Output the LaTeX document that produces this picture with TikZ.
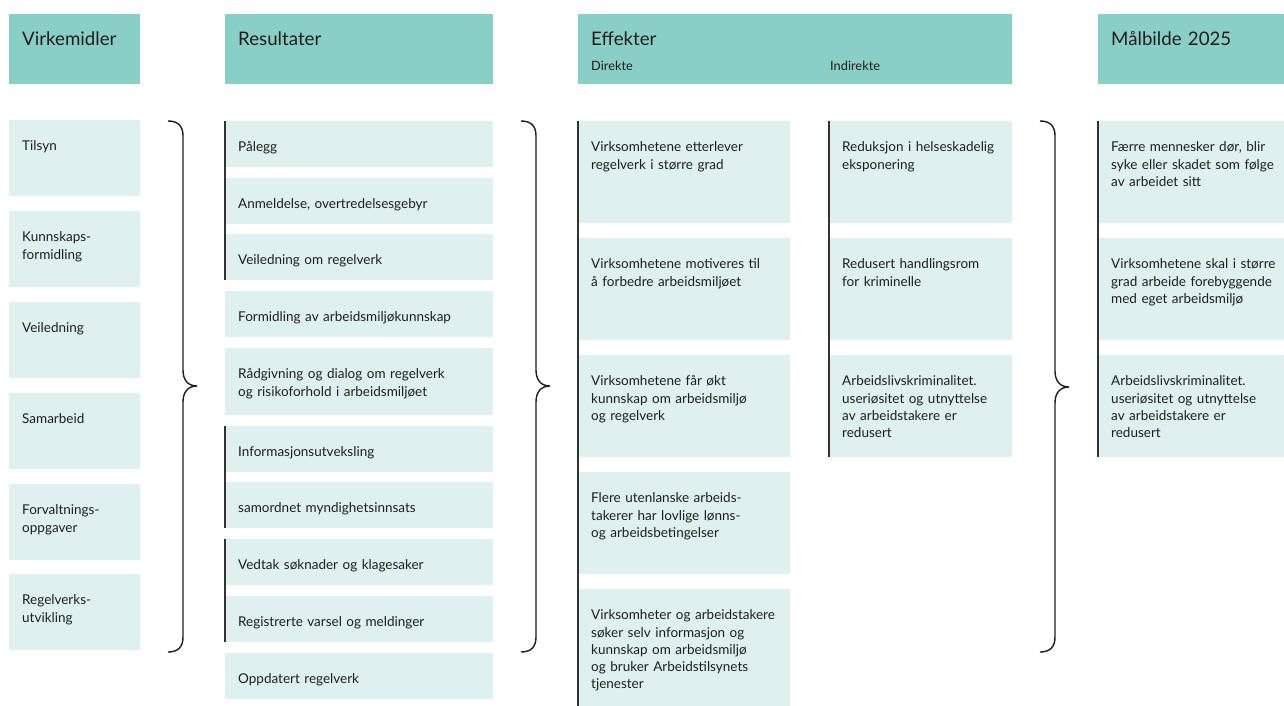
\documentclass[tikz,border=0pt]{standalone}
\usepackage{fontspec}
\setmainfont{Lato}
\definecolor{headc}{HTML}{8ACFC5}
\definecolor{lightc}{HTML}{DEF1EE}
\definecolor{inkc}{HTML}{1E1E1E}
\definecolor{barc}{HTML}{333333}
\newcommand\kbox[6]{%
  \node[boxst, minimum width=#4pt, minimum height=#5pt] (#1) at (#2,#3) {};
  \node[txt] (#1t) at ([xshift=13pt, yshift=-18.6pt]#1.north west) {\strut #6};
}
\newcommand\khead[6]{%
  \node[headst, minimum width=#4pt, minimum height=#5pt] (#1) at (#2,#3) {};
  \node[htxt] (#1t) at ([xshift=13pt, yshift=-16pt]#1.north west) {\strut #6};
}
\newcommand\kbrace[4]{% x0, top, mid, bottom
  \draw[bracest] (#1,#2) .. controls ++(10,0) and ++(0,-10) .. ++(15,15)
    -- (#1+15,#3-16) .. controls ++(0,10) and ++(-9,0) .. (#1+29,#3)
    .. controls ++(-9,0) and ++(0,-10) .. (#1+15,#3+16)
    -- (#1+15,#4-15) .. controls ++(0,10) and ++(10,0) .. (#1,#4);
}
\begin{document}
\begin{tikzpicture}[x=1pt,y=-1pt,
  boxst/.style={rectangle, fill=lightc, inner sep=0pt, outer sep=0pt, anchor=north west},
  headst/.style={rectangle, fill=headc, inner sep=0pt, outer sep=0pt, anchor=north west},
  txt/.style={inner sep=0pt, anchor=north west, text width=250pt, align=left, text=inkc,
    font=\fontsize{13.5}{17.2}\selectfont},
  htxt/.style={inner sep=0pt, anchor=north west, text width=250pt, align=left, text=inkc,
    font=\fontsize{18.7}{22}\selectfont},
  subtxt/.style={inner sep=0pt, anchor=base west, text=inkc, font=\fontsize{12.8}{15}\selectfont},
  barst/.style={draw=barc, line width=1.8pt},
  bracest/.style={draw=inkc, line width=1.4pt}]
\useasboundingbox (0,0) rectangle (1284,706);
\fill[white] (0,0) rectangle (1284,706);

% headers
\khead{h1}{9}{14}{131}{70}{Virkemidler}
\khead{h2}{225}{14}{268}{70}{Resultater}
\khead{h3}{578}{14}{434}{70}{Effekter}
\khead{h4}{1098}{14}{186}{70}{Målbilde 2025}
\node[subtxt] (sd) at (591,71) {Direkte};
\node[subtxt] (si) at (830,71) {Indirekte};

% Virkemidler
\kbox{v1}{9}{120}{131}{76}{Tilsyn}
\kbox{v2}{9}{211}{131}{76}{Kunnskaps-\\formidling}
\kbox{v3}{9}{302}{131}{76}{Veiledning}
\kbox{v4}{9}{393}{131}{76}{Samarbeid}
\kbox{v5}{9}{484}{131}{76}{Forvaltnings-\\oppgaver}
\kbox{v6}{9}{574}{131}{76}{Regelverks-\\utvikling}

% Resultater
\kbox{r1}{225}{121}{268}{46}{Pålegg}
\kbox{r2}{225}{178}{268}{46}{Anmeldelse, overtredelsesgebyr}
\kbox{r3}{225}{234}{268}{46}{Veiledning om regelverk}
\kbox{r4}{225}{291}{268}{46}{Formidling av arbeidsmiljøkunnskap}
\kbox{r5}{225}{348}{268}{67}{Rådgivning og dialog om regelverk\\og risikoforhold i arbeidsmiljøet}
\kbox{r6}{225}{426}{268}{46}{Informasjonsutveksling}
\kbox{r7}{225}{482}{268}{46}{samordnet myndighetsinnsats}
\kbox{r8}{225}{539}{268}{46}{Vedtak søknader og klagesaker}
\kbox{r9}{225}{596}{268}{46}{Registrerte varsel og meldinger}
\kbox{r10}{225}{653}{268}{46}{Oppdatert regelverk}

% Effekter direkte
\kbox{d1}{578}{121}{212}{102}{Virksomhetene etterlever\\regelverk i større grad}
\kbox{d2}{578}{238}{212}{102}{Virksomhetene motiveres til\\å forbedre arbeidsmiljøet}
\kbox{d3}{578}{355}{212}{102}{Virksomhetene får økt\\kunnskap om arbeidsmiljø\\og regelverk}
\kbox{d4}{578}{472}{212}{102}{Flere utenlanske arbeids-\\takerer har lovlige lønns-\\og arbeidsbetingelser}
\kbox{d5}{578}{589}{212}{117}{Virksomheter og arbeidstakere\\søker selv informasjon og\\kunnskap om arbeidsmiljø\\og bruker Arbeidstilsynets\\tjenester}

% Effekter indirekte
\kbox{i1}{829}{121}{183}{102}{Reduksjon i helseskadelig\\eksponering}
\kbox{i2}{829}{238}{183}{102}{Redusert handlingsrom\\for kriminelle}
\kbox{i3}{829}{355}{183}{102}{Arbeidslivskriminalitet.\\useriøsitet og utnyttelse\\av arbeidstakere er\\redusert}

% Målbilde
\kbox{m1}{1098}{121}{186}{102}{Færre mennesker dør, blir\\syke eller skadet som følge\\av arbeidet sitt}
\kbox{m2}{1098}{238}{186}{102}{Virksomhetene skal i større\\grad arbeide forebyggende\\med eget arbeidsmiljø}
\kbox{m3}{1098}{355}{186}{102}{Arbeidslivskriminalitet.\\useriøsitet og utnyttelse\\av arbeidstakere er\\redusert}

% bars
\draw[barst] (r1.north west) -- (r3.south west);
\draw[barst] (r6.north west) -- (r7.south west);
\draw[barst] (r8.north west) -- (r9.south west);
\draw[barst] (d1.north west) -- (d5.south west);
\draw[barst] (i1.north west) -- (i3.south west);
\draw[barst] (m1.north west) -- (m3.south west);

% braces
\kbrace{168}{121}{386}{652}
\kbrace{521}{121}{386}{652}
\kbrace{1040}{121}{387}{652}
\end{tikzpicture}
\end{document}
